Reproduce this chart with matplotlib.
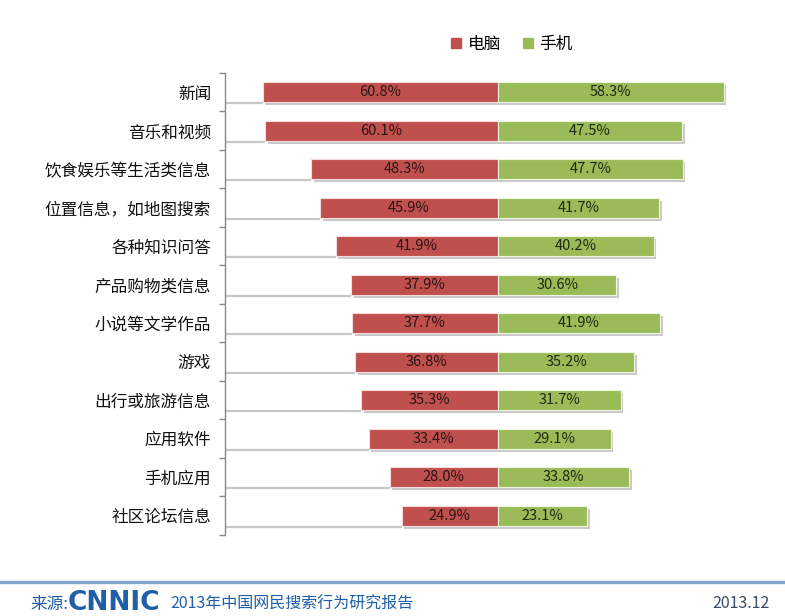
import matplotlib
matplotlib.use("Agg")
import matplotlib.pyplot as plt
import matplotlib.patheffects as pe
from matplotlib.lines import Line2D
from matplotlib.patches import Rectangle
import numpy as np

plt.rcParams['font.family'] = ['Noto Sans CJK SC', 'DejaVu Sans']

categories = ['新闻', '音乐和视频', '饮食娱乐等生活类信息', '位置信息，如地图搜索', '各种知识问答',
              '产品购物类信息', '小说等文学作品', '游戏', '出行或旅游信息', '应用软件',
              '手机应用', '社区论坛信息']
pc = [60.8, 60.1, 48.3, 45.9, 41.9, 37.9, 37.7, 36.8, 35.3, 33.4, 28.0, 24.9]
mobile = [58.3, 47.5, 47.7, 41.7, 40.2, 30.6, 41.9, 35.2, 31.7, 29.1, 33.8, 23.1]
series_names = ['电脑', '手机']

RED = '#C0504D'
GREEN = '#9BBB59'

fig = plt.figure(figsize=(7.85, 6.16), dpi=100)
fig.patch.set_facecolor('white')

ax = fig.add_axes([0.2866, 0.1315, 0.693, 0.75])
ax.patch.set_alpha(0)
n = len(categories)
y = np.arange(n)
h = 0.52
xmin, xmax = -70.5, 70

shadow = [pe.SimplePatchShadow(offset=(2, -2), shadow_rgbFace='#888888', alpha=0.45), pe.Normal()]

# shadow line of the invisible base segment
ax.hlines(y + h / 2 + 0.03, xmin, [-v for v in pc], color='#c8c8c8', lw=1.6, zorder=1)

bars_pc = ax.barh(y, [-v for v in pc], height=h, color=RED, edgecolor='#f4dcdc', lw=0.8, zorder=3)
bars_m = ax.barh(y, mobile, height=h, color=GREEN, edgecolor='#eef5e2', lw=0.8, zorder=3)
for b in list(bars_pc) + list(bars_m):
    b.set_path_effects(shadow)

for i in range(n):
    ax.text(-pc[i] / 2, y[i], f'{pc[i]:.1f}%', ha='center', va='center', fontsize=10.5,
            color='#2a1414', zorder=5)
    ax.text(mobile[i] / 2, y[i], f'{mobile[i]:.1f}%', ha='center', va='center', fontsize=10.5,
            color='#1e2a10', zorder=5)

ax.set_xlim(xmin, xmax)
ax.set_ylim(n - 0.5, -0.5)
ax.set_yticks(y)
ax.set_yticklabels(categories, fontsize=12, color='#111111')
ax.tick_params(axis='y', which='major', length=0, pad=10)
ax.set_yticks(np.arange(-0.5, n, 1), minor=True)
ax.tick_params(axis='y', which='minor', length=4, color='#888888', width=1)
ax.set_xticks([])
for s in ['top', 'right', 'bottom']:
    ax.spines[s].set_visible(False)
ax.spines['left'].set_color('#888888')
ax.spines['left'].set_linewidth(1)

# legend
handles = [Line2D([], [], marker='s', ls='', color=RED, markersize=7),
           Line2D([], [], marker='s', ls='', color=GREEN, markersize=7)]
fig.legend(handles, series_names, loc='center', bbox_to_anchor=(0.651, 0.928), ncol=2,
           frameon=False, fontsize=12, handlelength=0.8, handletextpad=0.3, columnspacing=1.2)

# footer
fig.add_artist(Rectangle((0, 1 - 583 / 616), 1, 2 / 616, transform=fig.transFigure,
                         color='#7fa8d0', zorder=2))
fig.text(30 / 785, 1 - 604 / 616, '来源:', fontsize=12, color='#1f5fa8', va='center', ha='left')
fig.text(68 / 785, 1 - 603 / 616, 'CNNIC', fontsize=19, color='#1f5fa8', va='center', ha='left',
         fontweight='bold', family='DejaVu Sans')
fig.text(170 / 785, 1 - 604 / 616, '2013年中国网民搜索行为研究报告', fontsize=11.5, color='#1f5fa8',
         va='center', ha='left')
fig.text(770 / 785, 1 - 604 / 616, '2013.12', fontsize=11.5, color='#3a4a6a', va='center', ha='right')

fig.savefig('out.png', dpi=100, facecolor='white')
